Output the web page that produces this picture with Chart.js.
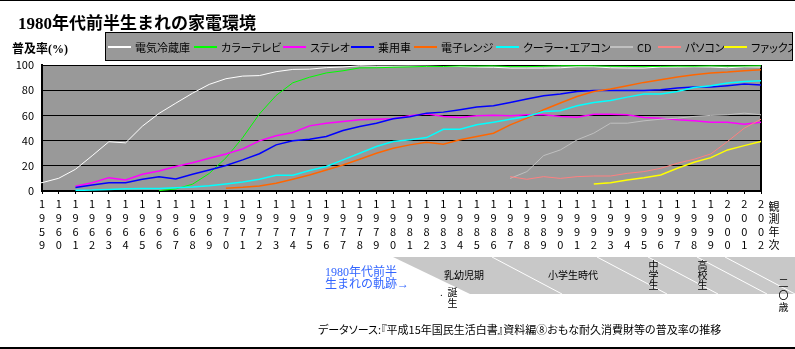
<!DOCTYPE html>
<html lang="ja">
<head>
<meta charset="utf-8">
<title>1980年代前半生まれの家電環境</title>
<script src="https://cdn.jsdelivr.net/npm/chart.js@4.4.0/dist/chart.umd.min.js"></script>
<style>
  body { margin: 0; background: #fff; }
  #wrap { position: relative; width: 795px; height: 349px; overflow: hidden;
          font-family: "Noto Sans CJK JP", sans-serif; font-feature-settings: "palt"; color: #000; }
  #wrap canvas { position: absolute; left: 0; top: 0; }
  .t { position: absolute; white-space: nowrap; line-height: 1; }
  .v { position: absolute; writing-mode: vertical-rl; white-space: nowrap; line-height: 1; }
  .rule { position: absolute; left: 0; width: 795px; background: #000; }
  #legend { position: absolute; left: 105px; top: 32px; width: 686px; height: 27px;
            background: #999; border: 1px solid #000; overflow: hidden; font-size: 11px; }
  #legend .item { position: absolute; top: 0; height: 27px; display: flex; align-items: center; white-space: nowrap; }
  #legend .swatch { display: inline-block; width: 23px; height: 2px; margin-right: 4px; }
</style>
</head>
<body>
<div id="wrap">
  <canvas id="chart" width="795" height="349"></canvas>
  <div class="rule" style="top:0;height:1px"></div>
  <div class="rule" style="top:347px;height:2px"></div>

  <div class="t" style="left:18px;top:9px;font:bold 17px 'Liberation Serif','Noto Sans CJK JP',serif">1980年代前半生まれの家電環境</div>
  <div class="t" style="left:12px;top:39px;font:bold 12px 'Liberation Serif','Noto Sans CJK JP',serif">普及率(%)</div>
  <div id="legend"></div>

  <div class="v" style="left:768px;top:201px;font-size:11px;letter-spacing:1.7px">観測年次</div>

  <div class="t" style="left:325px;top:267px;font:12px/11.6px 'Liberation Serif','Noto Sans CJK JP',serif;color:#3366ff">1980年代前半<br>生まれの軌跡→</div>
  <div class="t" style="left:444px;top:270px;font-size:10px">乳幼児期</div>
  <div class="t" style="left:548px;top:270px;font-size:10px">小学生時代</div>
  <div class="v" style="left:648px;top:260px;font-size:10px">中学生</div>
  <div class="v" style="left:697px;top:260px;font-size:10px">高校生</div>
  <div class="t" style="left:440px;top:287px;font-size:10px">.</div>
  <div class="v" style="left:447px;top:287px;font-size:10px;letter-spacing:1px">誕生</div>
  <div class="v" style="left:778px;top:278px;font-size:10px;letter-spacing:2px">二〇歳</div>

  <div class="t" style="left:318px;top:324px;font-size:11px">データソース:『平成15年国民生活白書』資料編⑧おもな耐久消費財等の普及率の推移</div>
</div>

<script>
// survey years on the x axis
const years = [];
for (let y = 1959; y <= 2002; y++) years.push(y);

// the refrigerator line starts off the left edge of the plot
const fridgeLeadYear = 1956;
const fridgeLead = 5.5;

const fridge = [6.6, 10.1, 17.2, 28.0, 39.1, 38.2, 51.4, 61.6, 69.7, 77.6, 84.6,
  89.1, 91.2, 91.6, 94.7, 96.5, 96.7, 97.9, 98.4, 99.4, 99.1,
  99.1, 99.2, 99.1, 98.8, 98.8, 98.4, 98.2, 97.6, 97.6, 97.6,
  97.8, 98.6, 98.6, 97.8, 97.6, 97.6, 98.4, 98.4, 98.6, 98.4,
  97.8, 98.6, 98.4];
const colorTv = [null, null, null, null, null, null, null,
  0.3, 1.6, 5.4, 13.9, 26.3, 42.3, 61.1, 75.8, 85.9, 90.3,
  93.7, 95.4, 97.7, 97.8, 98.2, 98.5, 98.9, 98.8, 99.2, 99.1,
  99.3, 98.7, 98.7, 99.0, 99.4, 99.4, 99.3, 99.0, 98.9, 98.7,
  98.9, 99.1, 99.0, 99.3, 99.1, 99.2, 99.4];
const stereo = [null, null, 3.7, 6.6, 10.6, 8.8, 13.3, 15.9, 19.4, 22.5, 26.0,
  29.4, 33.4, 39.8, 43.8, 46.4, 51.7, 53.8, 55.2, 56.5, 57.0,
  57.4, 59.7, 61.3, 59.2, 58.4, 59.7, 60.2, 59.7, 60.5, 60.5,
  59.2, 58.6, 61.0, 61.0, 60.5, 58.4, 57.8, 56.5, 55.7, 54.6,
  54.6, 53.0, 54.6];
const car = [null, null, 2.7, 4.8, 6.6, 6.6, 9.3, 11.4, 9.5, 13.3, 16.7,
  20.2, 24.7, 29.6, 36.6, 39.8, 41.1, 43.2, 48.0, 51.2, 53.8,
  57.4, 59.0, 61.8, 62.6, 64.5, 66.6, 67.6, 70.3, 73.0, 75.6,
  77.0, 79.0, 79.8, 79.8, 79.8, 79.8, 80.4, 81.7, 82.5, 82.5,
  83.6, 84.9, 84.1];
const microwave = [null, null, null, null, null, null, null, null, null, null, null,
  2.1, 2.9, 4.0, 6.1, 9.3, 12.7, 16.7, 20.7, 25.2, 30.0,
  34.0, 36.6, 38.7, 37.1, 40.6, 43.2, 45.9, 52.5, 57.8, 64.5,
  69.8, 75.0, 79.0, 80.9, 83.6, 86.2, 88.3, 90.5, 92.3, 93.6,
  94.4, 95.5, 96.3];
const aircon = [null, null, 0.5, 0.7, 1.2, 1.7, 2.0, 2.0, 2.5, 3.2, 4.2,
  5.6, 7.2, 9.3, 12.5, 12.5, 16.2, 19.4, 24.7, 30.0, 35.3,
  39.3, 40.6, 42.4, 49.0, 49.0, 52.5, 54.6, 57.0, 59.2, 63.1,
  63.7, 67.6, 70.3, 71.9, 74.5, 77.0, 77.0, 79.0, 82.2, 83.6,
  85.7, 87.0, 87.5];
const cd = [null, null, null, null, null, null, null, null, null, null,
  null, null, null, null, null, null, null, null, null, null,
  null, null, null, null, null, null, null, null,
  10.0, 15.4, 28.1, 32.6, 40.6, 45.9, 53.8, 53.8, 55.7, 57.0,
  57.8, 59.2, 60.0, 60.5, 61.8, 60.5];
const pc = [null, null, null, null, null, null, null, null, null, null,
  null, null, null, null, null, null, null, null, null, null,
  null, null, null, null, null, null, null, null,
  11.4, 9.3, 11.4, 10.0, 11.4, 11.9, 11.9, 14.0, 15.4, 18.0,
  22.0, 25.2, 29.4, 39.3, 49.9, 57.0];
const fax = [null, null, null, null, null, null, null, null, null, null,
  null, null, null, null, null, null, null, null, null, null,
  null, null, null, null, null, null, null, null, null, null,
  null, null, null,
  5.6, 6.6, 8.8, 10.6, 12.7, 18.0, 22.8, 26.5, 32.6, 36.0, 39.3];

const seriesNames = ['電気冷蔵庫', 'カラーテレビ', 'ステレオ', '乗用車', '電子レンジ',
  'クーラー・エアコン', 'CD', 'パソコン', 'ファックス'];
const seriesValues = [fridge, colorTv, stereo, car, microwave, aircon, cd, pc, fax];
const seriesColors = ['#ffffff', '#00ff00', '#ff00ff', '#0000ff', '#ff6600',
  '#00ffff', '#c0c0c0', '#ff8080', '#ffff00'];
const seriesWidths = [1, 1, 1.5, 1.5, 1.5, 1.5, 1, 1, 1.5];

const legendLeft = [2, 88, 177, 245, 308, 390, 504, 552, 618];

const toPoints = (vals) => years.map((yr, i) => ({ x: yr, y: vals[i] }));

const datasets = seriesNames.map((name, i) => {
  const pts = toPoints(seriesValues[i]);
  if (i === 0) pts.unshift({ x: fridgeLeadYear, y: fridgeLead });
  return {
    label: name,
    data: pts,
    borderColor: seriesColors[i],
    borderWidth: seriesWidths[i],
    pointRadius: 0,
    tension: 0,
    fill: false,
    clip: i === 0 ? false : undefined,
    order: seriesNames.length - i
  };
});

// legend box above the plot
const legend = document.getElementById('legend');
seriesNames.forEach((name, i) => {
  const item = document.createElement('div');
  item.className = 'item';
  item.style.left = legendLeft[i] + 'px';
  const sw = document.createElement('span');
  sw.className = 'swatch';
  sw.style.background = seriesColors[i];
  item.appendChild(sw);
  item.appendChild(document.createTextNode(name));
  legend.appendChild(item);
});

const decor = {
  id: 'decor',
  beforeDraw(chart) {
    const { ctx, chartArea: a } = chart;
    ctx.save();
    ctx.fillStyle = '#999999';
    ctx.fillRect(a.left, a.top, a.right - a.left, a.bottom - a.top);
    ctx.restore();
  },
  beforeDatasetsDraw(chart) {
    const { ctx, chartArea: a } = chart;
    ctx.save();
    ctx.strokeStyle = '#000';
    ctx.lineWidth = 2;
    ctx.beginPath();
    ctx.moveTo(a.right, a.top);
    ctx.lineTo(a.right, a.bottom);
    ctx.stroke();
    ctx.restore();
  },
  afterDraw(chart) {
    // life-stage band under the year labels
    const ctx = chart.ctx;
    ctx.save();
    ctx.fillStyle = '#c8c8c8';
    ctx.beginPath();
    ctx.moveTo(393, 257);
    ctx.lineTo(795, 257);
    ctx.lineTo(795, 294);
    ctx.lineTo(470, 294);
    ctx.closePath();
    ctx.fill();
    ctx.strokeStyle = '#ffffff';
    ctx.lineWidth = 1;
    [492, 597, 648, 697, 725].forEach(x0 => {
      ctx.beginPath();
      ctx.moveTo(x0, 257);
      ctx.lineTo(x0 + 70, 294);
      ctx.stroke();
    });
    ctx.restore();
  }
};

const tickFont = { family: '"Noto Sans CJK JP", sans-serif', size: 11, lineHeight: 1.25 };

new Chart(document.getElementById('chart'), {
  type: 'line',
  data: { datasets },
  options: {
    responsive: false,
    animation: false,
    events: [],
    layout: { padding: { left: 0, right: 34, top: 65, bottom: 96 } },
    plugins: { legend: { display: false }, tooltip: { enabled: false } },
    scales: {
      x: {
        type: 'linear',
        min: 1959,
        max: 2002,
        afterFit: (s) => { s.height = 62; },
        grid: { drawOnChartArea: false, color: '#000', tickLength: 3 },
        border: { color: '#000', width: 2 },
        ticks: {
          stepSize: 1,
          autoSkip: false,
          maxRotation: 0,
          minRotation: 0,
          padding: 3,
          color: '#000',
          font: tickFont,
          callback: (v) => String(v).split('')
        }
      },
      y: {
        min: 0,
        max: 100,
        afterFit: (s) => { s.width = 42; },
        grid: { color: '#000', lineWidth: 1, drawTicks: false },
        border: { color: '#000', width: 2 },
        ticks: { stepSize: 20, padding: 8, color: '#000', font: { ...tickFont, lineHeight: 1.2 } }
      }
    }
  },
  plugins: [decor]
});
</script>
</body>
</html>
